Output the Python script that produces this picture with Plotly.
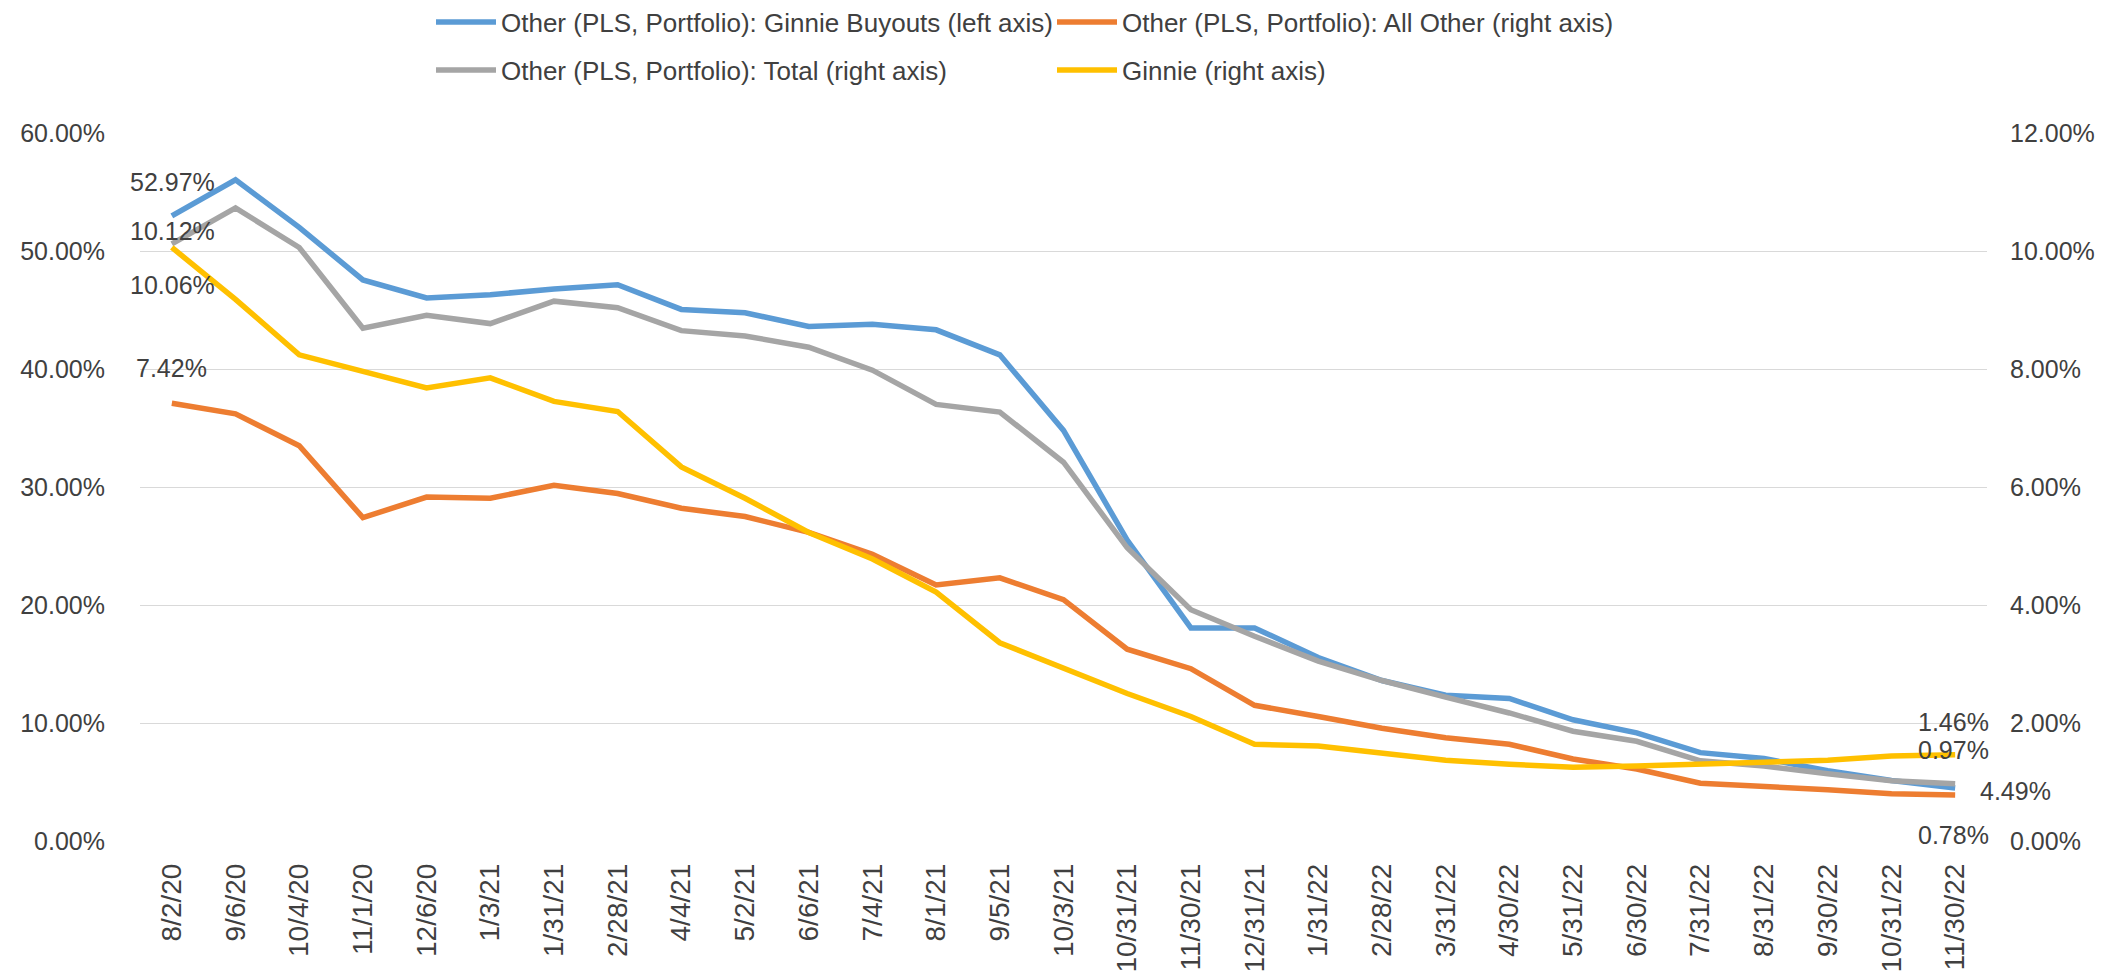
import plotly.graph_objects as go

categories = ["8/2/20", "9/6/20", "10/4/20", "11/1/20", "12/6/20", "1/3/21", "1/31/21",
              "2/28/21", "4/4/21", "5/2/21", "6/6/21", "7/4/21", "8/1/21", "9/5/21",
              "10/3/21", "10/31/21", "11/30/21", "12/31/21", "1/31/22", "2/28/22",
              "3/31/22", "4/30/22", "5/31/22", "6/30/22", "7/31/22", "8/31/22",
              "9/30/22", "10/31/22", "11/30/22"]

# values in percent
ginnie_buyouts = [52.97, 56.03, 52.00, 47.55, 46.02, 46.30, 46.77, 47.14, 45.05, 44.77,
                  43.60, 43.80, 43.32, 41.20, 34.80, 25.50, 18.06, 18.06, 15.55, 13.60,
                  12.35, 12.08, 10.27, 9.16, 7.49, 6.99, 5.95, 5.12, 4.49]
all_other = [7.42, 7.24, 6.70, 5.48, 5.83, 5.81, 6.03, 5.89, 5.64, 5.50,
             5.23, 4.86, 4.34, 4.46, 4.09, 3.25, 2.92, 2.30, 2.11, 1.91,
             1.75, 1.64, 1.39, 1.22, 0.98, 0.93, 0.87, 0.80, 0.78]
total = [10.12, 10.73, 10.06, 8.69, 8.91, 8.77, 9.15, 9.04, 8.65, 8.56,
         8.37, 7.98, 7.40, 7.27, 6.42, 4.97, 3.92, 3.47, 3.05, 2.72,
         2.44, 2.17, 1.86, 1.69, 1.36, 1.27, 1.14, 1.02, 0.97]
ginnie = [10.06, 9.18, 8.24, 7.95, 7.68, 7.85, 7.45, 7.28, 6.34, 5.81,
          5.23, 4.78, 4.22, 3.36, 2.93, 2.50, 2.11, 1.64, 1.61, 1.50,
          1.37, 1.30, 1.25, 1.27, 1.30, 1.33, 1.37, 1.44, 1.46]

names = ["Other (PLS, Portfolio): Ginnie Buyouts (left axis)",
         "Other (PLS, Portfolio): All Other (right axis)",
         "Other (PLS, Portfolio): Total (right axis)",
         "Ginnie (right axis)"]
colors = ["#5B9BD5", "#ED7D31", "#A5A5A5", "#FFC000"]

FONT = "Liberation Sans, Arial, sans-serif"
TXT = "#404040"
LW = 5.5

fig = go.Figure()
series = [(ginnie_buyouts, "y", "legend"), (all_other, "y2", "legend"),
          (total, "y2", "legend2"), (ginnie, "y2", "legend2")]
for (vals, ax, lg), nm, col in zip(series, names, colors):
    fig.add_trace(go.Scatter(x=categories, y=vals, name=nm, mode="lines",
                             line=dict(color=col, width=LW), yaxis=ax, legend=lg,
                             hovertemplate="%{x}: %{y:.2f}%<extra></extra>"))

# data labels: (series, index, axis, xshift, yshift)
labels = [(ginnie_buyouts, 0, "y", 1, 34), (total, 0, "y2", 1, 13),
          (ginnie, 0, "y2", 1, -38), (all_other, 0, "y2", 0, 35),
          (ginnie, -1, "y2", -2, 33), (total, -1, "y2", -2, 34),
          (ginnie_buyouts, -1, "y", 60, -3), (all_other, -1, "y2", -2, -40)]
for vals, idx, ax, xs, ys in labels:
    fig.add_annotation(x=categories[idx], y=vals[idx], xref="x", yref=ax,
                       text=f"{vals[idx]:.2f}%", showarrow=False,
                       xshift=xs, yshift=ys,
                       font=dict(family=FONT, size=25, color=TXT))

legend_common = dict(orientation="h", xref="container", yref="container",
                     xanchor="left", yanchor="middle", x=423 / 2114,
                     entrywidth=546, entrywidthmode="pixels",
                     font=dict(family=FONT, size=26, color=TXT),
                     bgcolor="rgba(0,0,0,0)", itemwidth=60)

fig.update_layout(
    width=2114, height=977,
    margin=dict(l=130, r=135, t=125, b=134),
    paper_bgcolor="white", plot_bgcolor="white",
    font=dict(family=FONT, size=25, color=TXT),
    showlegend=True,
    legend=dict(**legend_common, y=1 - 14 / 977),
    legend2=dict(**legend_common, y=1 - 62 / 977),
    xaxis=dict(type="category", range=[-0.5, len(categories) - 0.5],
               tickangle=-90, showgrid=False, showline=False, zeroline=False,
               ticks="", ticklabelstandoff=16,
               tickfont=dict(family=FONT, size=28, color=TXT)),
    yaxis=dict(range=[0, 60], dtick=10, tickformat=".2f", ticksuffix="%",
               showgrid=True, gridcolor="#D9D9D9", gridwidth=1.3,
               zeroline=False, showline=False, ticks="", ticklabelstandoff=34,
               tickfont=dict(family=FONT, size=25, color=TXT)),
    yaxis2=dict(range=[0, 12], dtick=2, tickformat=".2f", ticksuffix="%",
                overlaying="y", side="right", showgrid=False, zeroline=False,
                showline=False, ticks="", ticklabelstandoff=22,
                tickfont=dict(family=FONT, size=25, color=TXT)),
)

fig.write_html("out.html")
